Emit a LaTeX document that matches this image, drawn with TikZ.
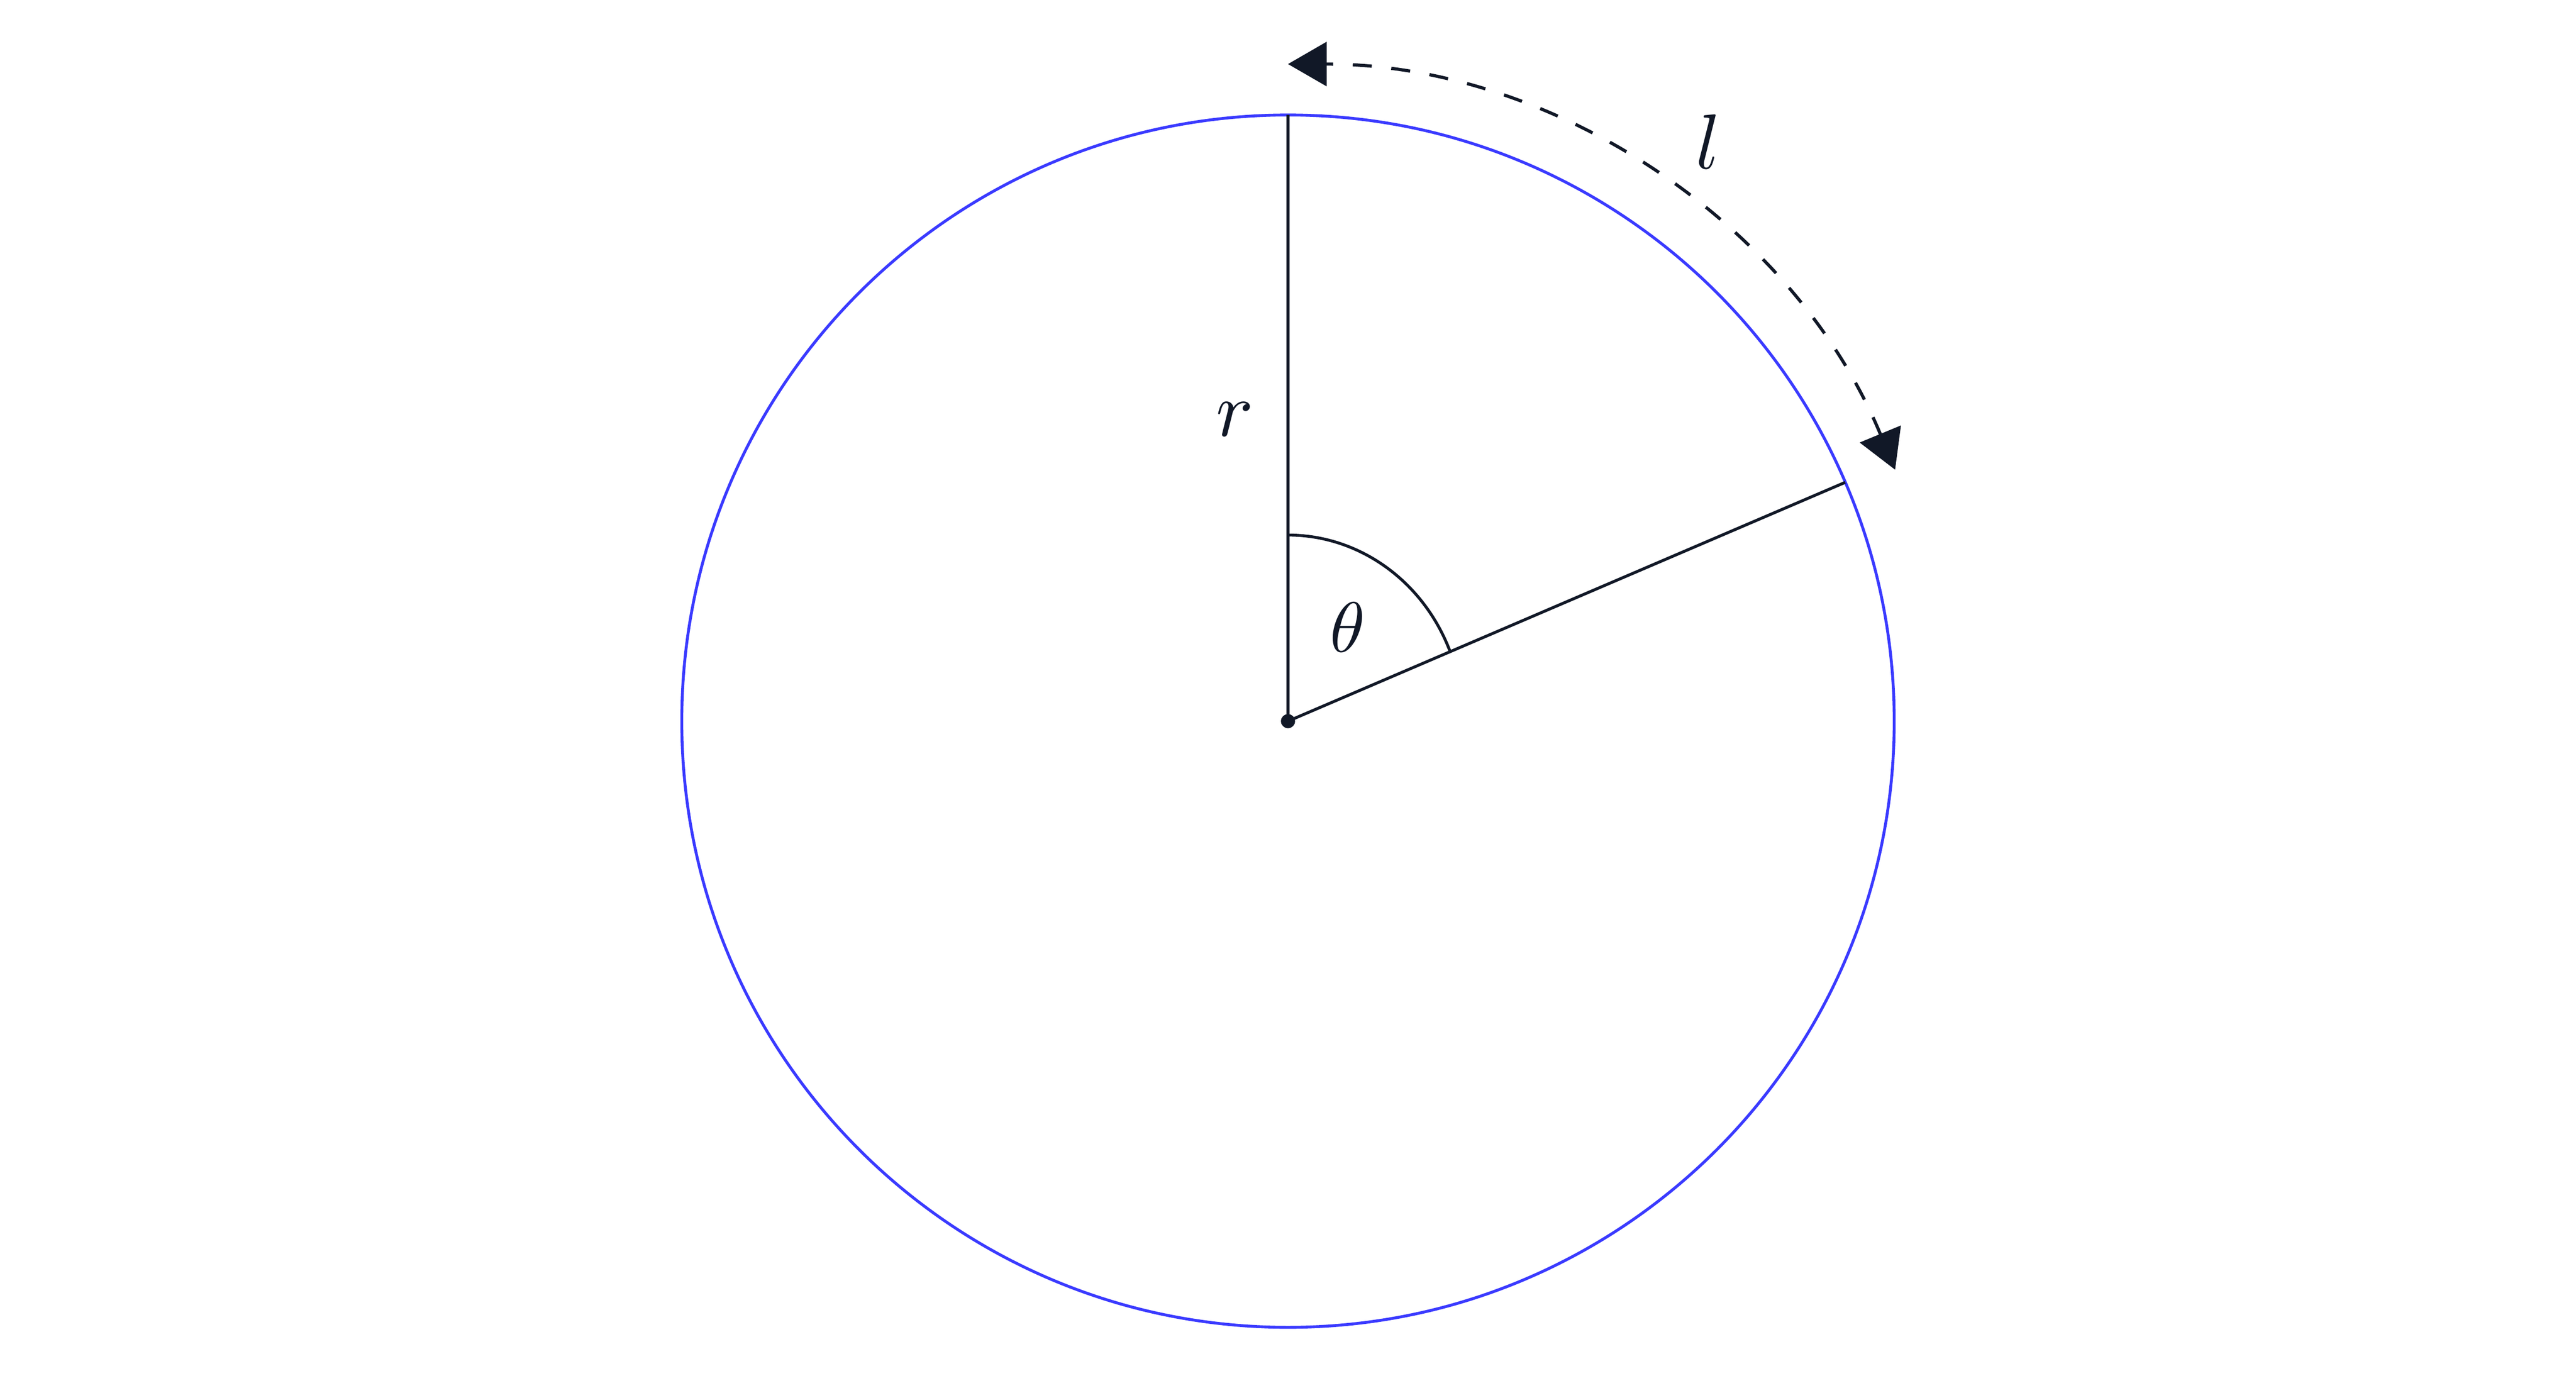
\documentclass[tikz,border=0pt]{standalone}
\usepackage{graphicx}
\usepackage{tikz}
\usetikzlibrary{arrows.meta,positioning,calc}
\definecolor{inkdark}{HTML}{111827}
\definecolor{rimblue}{HTML}{3A3AFF}

\begin{document}
\begin{tikzpicture}[
    rim_circle/.style ={draw=rimblue, line width=0.5pt},
    radius_line/.style ={draw=inkdark, line width=0.5pt},
    angle_arc/.style ={draw=inkdark, line width=0.5pt},
    arc_arrow/.style ={draw=inkdark, line width=0.55pt, dash pattern=on 3.3pt off 3.4pt,
      arrows={Triangle[length=6.7pt, width=7.6pt, inkdark]-Triangle[length=6.7pt, width=7.6pt, inkdark]}},
    label_math/.style ={text=inkdark, inner sep=0pt, font={\fontsize{10pt}{12}\selectfont}}]
    \useasboundingbox (-7.84,-4.089) rectangle (7.84,4.39);
    % centre and points on the rim
    \coordinate (ctr) at (0,0);
    \coordinate (top) at (90:3.69);
    \coordinate (rim) at (23.2:3.69);
    \coordinate (arcstart) at (22.5:4);
    \coordinate (angstart) at (0,1.133);
    % circle and radii
    \path[rim_circle] (ctr) circle (3.69);
    \path[radius_line] (ctr) -- (top);
    \path[radius_line] (ctr) -- (rim);
    \fill[inkdark] (ctr) circle (0.043);
    % angle mark
    \path[angle_arc] (angstart) arc[start angle=90, end angle=22.1, x radius=1.064, y radius=1.133];
    % arc length arrow
    \path[arc_arrow] (arcstart) arc[start angle=22.5, end angle=90, radius=4];
    % labels
    \node[label_math] (rlabel) at (-0.323,1.837) {\scalebox{1.35}{$r$}};
    \node[label_math] (llabel) at (2.558,3.528) {\scalebox{1.35}{$l$}};
    \node[label_math] (thlabel) at (0.363,0.572) {\scalebox{1.23}{$\theta$}};
\end{tikzpicture}
\end{document}
